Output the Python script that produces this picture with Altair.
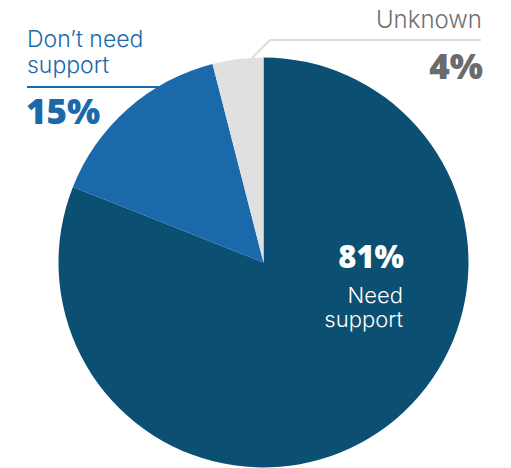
import altair as alt
import pandas as pd

categories = ["Need support", "Don't need support", "Unknown"]
values = [81, 15, 4]
orders = [1, 2, 3]
colors = ["#0b4f73", "#1a69aa", "#e0e0e0"]

pie_df = pd.DataFrame({"category": categories, "value": values, "order": orders})

LFONT = "Inter"
BFONT = "Open Sans"

pie = alt.Chart(pie_df).mark_arc(outerRadius=205, stroke=None).encode(
    theta=alt.Theta("value:Q", stack=True),
    order=alt.Order("order:Q"),
    color=alt.Color("category:N", scale=alt.Scale(domain=categories, range=colors), legend=None),
    x=alt.value(263.5),
    y=alt.value(262.5),
)

def txt(text, x, y, size, weight, color, align, font, lh=None):
    kw = dict(font=font, fontSize=size, fontWeight=weight, color=color, align=align, baseline="alphabetic")
    if lh is not None:
        kw.update(lineBreak="\n", lineHeight=lh)
    return alt.Chart(pd.DataFrame({"t": [text]})).mark_text(**kw).encode(
        text="t:N", x=alt.value(x), y=alt.value(y))

def rule(x1, y1, x2, y2, color, w):
    return alt.Chart(pd.DataFrame({"a": [0]})).mark_rule(color=color, strokeWidth=w).encode(
        x=alt.value(x1), y=alt.value(y1), x2=alt.value(x2), y2=alt.value(y2)
    )

pct = [f"{v}%" for v in values]

layers = [
    pie,
    txt(pct[0], 404, 268, 31, 800, "white", "right", BFONT),
    txt("Need\nsupport", 403, 303, 22, 300, "white", "right", LFONT, 24),
    txt("Don\u2019t need\nsupport", 27, 47, 23, 300, "#1a69aa", "left", LFONT, 26),
    rule(27, 87, 165, 87, "#1a69aa", 2),
    txt(pct[1], 26, 124, 35, 800, "#1a69aa", "left", BFONT),
    txt("Unknown", 482, 28, 24, 300, "#707070", "right", LFONT),
    rule(270, 40, 481, 40, "#dddddd", 2),
    rule(270, 40, 252, 58, "#dddddd", 2),
    txt(pct[2], 483, 79, 35, 800, "#6b6b6b", "right", BFONT),
]

chart = alt.layer(*layers).properties(
    width=511, height=468, autosize=alt.AutoSizeParams(type="none"), padding=0
).configure_view(stroke=None)

chart.save("out.html", embed_options={"renderer": "svg", "actions": False})
